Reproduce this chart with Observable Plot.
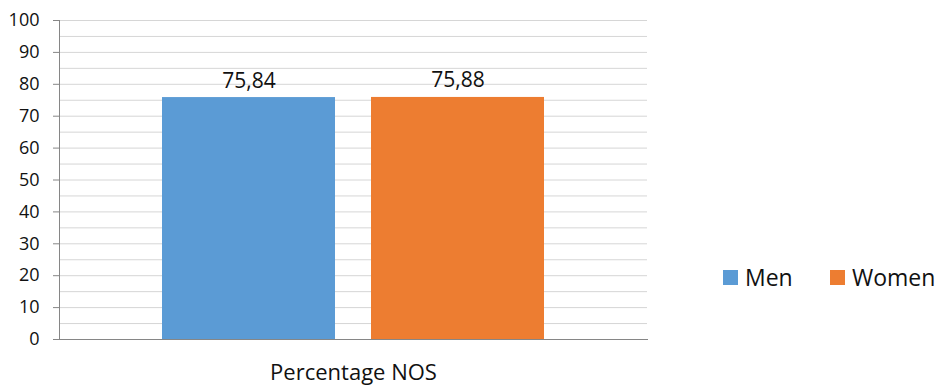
<!DOCTYPE html>
<html>
<head>
<meta charset="utf-8">
<script src="https://cdn.jsdelivr.net/npm/d3@7"></script>
<script src="https://cdn.jsdelivr.net/npm/@observablehq/plot@0.6"></script>
<style>
  html, body { margin: 0; padding: 0; background: #fff; }
  #chart { position: relative; width: 938px; height: 385px; font-family: "Open Sans", sans-serif; color: #111; }
  #chart svg { display: block; }
  .legend-item { position: absolute; display: flex; align-items: center; font-size: 23px; line-height: 1; white-space: nowrap; }
  .legend-item .swatch { display: inline-block; width: 15px; height: 15px; margin-right: 7px; }
</style>
</head>
<body>
<div id="chart"></div>
<script>
// Chart data
const categories = ["Percentage NOS"];
const series = ["Men", "Women"];
const values = [75.84, 75.88];
const seriesColors = ["#5b9bd5", "#ed7d31"];
const yTicks = [0, 10, 20, 30, 40, 50, 60, 70, 80, 90, 100];
const gridValues = [5, 10, 15, 20, 25, 30, 35, 40, 45, 50, 55, 60, 65, 70, 75, 80, 85, 90, 95, 100];

const rows = series.map((s, i) => ({ category: categories[0], series: s, value: values[i] }));

// Decimal comma for the value labels
const fmt = d3.formatLocale({ decimal: ",", thousands: ".", grouping: [3], currency: ["", ""] }).format(".2f");

const plot = Plot.plot({
  width: 938,
  height: 385,
  marginLeft: 59,
  marginRight: 291,
  marginTop: 20,
  marginBottom: 46,
  style: { fontFamily: "Open Sans, sans-serif", fontSize: "18px", color: "#111", background: "transparent", overflow: "visible" },
  fx: { domain: categories, padding: 0, label: null },
  x: { domain: series, paddingInner: 0.17, paddingOuter: 0.49, axis: null },
  y: { domain: [0, 100], label: null },
  color: { domain: series, range: seriesColors },
  marks: [
    Plot.ruleY(gridValues, { stroke: "#d6d6d6", strokeWidth: 1 }),
    Plot.barY(rows, { fx: "category", x: "series", y: "value", fill: "series" }),
    Plot.text(rows, {
      fx: "category", x: "series", y: "value",
      text: d => fmt(d.value),
      lineAnchor: "bottom", dy: -10,
      fontSize: 21, fill: "#111"
    }),
    Plot.axisY({ ticks: yTicks, tickSize: 6, tickPadding: 14, stroke: "#868686", fill: "#111", fontSize: 18, tickFormat: d => String(d), label: null }),
    Plot.axisFx({ anchor: "bottom", tickSize: 0, tickPadding: 25, fontSize: 22, fill: "#111", label: null }),
    Plot.frame({ anchor: "left", stroke: "#868686" }),
    Plot.frame({ anchor: "bottom", stroke: "#868686" })
  ]
});

const chart = document.getElementById("chart");
chart.appendChild(plot);

// Legend on the right
const legendLeft = [723, 830];
series.forEach((s, i) => {
  const item = document.createElement("div");
  item.className = "legend-item";
  item.style.left = legendLeft[i] + "px";
  item.style.top = "266px";
  item.style.height = "23px";
  const sw = document.createElement("span");
  sw.className = "swatch";
  sw.style.background = seriesColors[i];
  const label = document.createElement("span");
  label.textContent = s;
  item.appendChild(sw);
  item.appendChild(label);
  chart.appendChild(item);
});
</script>
</body>
</html>
